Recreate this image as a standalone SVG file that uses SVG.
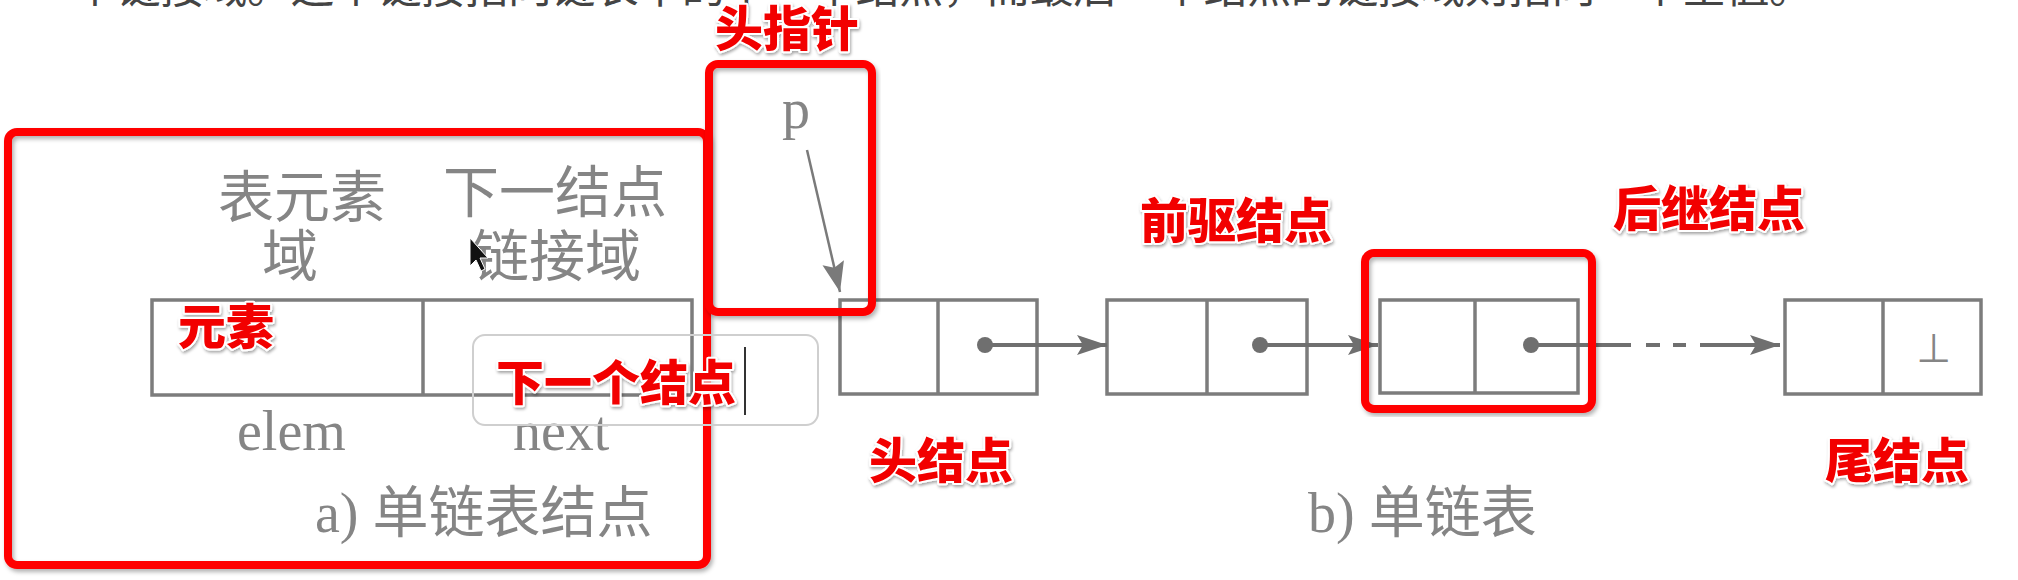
<svg xmlns="http://www.w3.org/2000/svg" width="2018" height="580" viewBox="0 0 2018 580">
  <style>
    .cell{fill:none;stroke:#7c7c7c;stroke-width:3.5}
    .gcn{font-family:"Noto Sans CJK SC","Noto Sans CJK JP",sans-serif;font-size:56px;fill:#858585}
    .gser{font-family:"Liberation Serif","Noto Sans CJK SC",serif;font-size:56px;fill:#858585}
    .red{font-family:"Noto Sans CJK SC",sans-serif;font-weight:900;font-size:48px;fill:#f20000;stroke:#ffffff;stroke-width:4;paint-order:stroke;stroke-linejoin:round;filter:url(#tsh)}
    .rbox{fill:none;stroke:#ff0000;stroke-width:8;filter:url(#bsh)}
    .conn{stroke:#6f6f6f;stroke-width:4;fill:none}
  </style>
  <defs>
    <filter id="tsh" x="-10%" y="-20%" width="120%" height="150%">
      <feDropShadow dx="1" dy="2" stdDeviation="1.5" flood-color="#000" flood-opacity="0.35"/>
    </filter>
    <filter id="bsh" x="-5%" y="-5%" width="110%" height="110%">
      <feDropShadow dx="2" dy="3" stdDeviation="2" flood-color="#000" flood-opacity="0.3"/>
    </filter>
    <marker id="ah" markerUnits="userSpaceOnUse" markerWidth="32" markerHeight="24" refX="30" refY="12" orient="auto">
      <path d="M0,2 L30,12 L0,22 L6,12 z" fill="#6f6f6f"/>
    </marker>
    <marker id="ahp" markerUnits="userSpaceOnUse" markerWidth="32" markerHeight="26" refX="30" refY="13" orient="auto">
      <path d="M0,2 L30,13 L0,24 L5,13 z" fill="#7a7a7a"/>
    </marker>
  </defs>
  <rect width="2018" height="580" fill="#ffffff"/>

  <!-- cut-off sentence at the top -->
  <text x="73" y="3" font-family="Noto Sans CJK SC, sans-serif" font-size="44" fill="#444" textLength="1740" lengthAdjust="spacing">个链接域。这个链接指向链表中的下一个结点，而最后一个结点的链接域则指向一个空值。</text>

  <!-- a) node structure -->
  <g id="node-a">
    <rect class="cell" x="152" y="300" width="540" height="95"/>
    <line class="cell" x1="423" y1="300" x2="423" y2="395"/>
    <text class="gcn" x="302" y="217" text-anchor="middle">表元素</text>
    <text class="gcn" x="290" y="276" text-anchor="middle">域</text>
    <text class="gcn" x="555" y="212" text-anchor="middle">下一结点</text>
    <text class="gcn" x="557" y="276" text-anchor="middle">链接域</text>
    <text class="gser" x="237" y="450">elem</text>
    <text class="gser" x="513" y="450">next</text>
    <text class="gser" x="315" y="532">a) 单链表结点</text>
  </g>

  <!-- head pointer -->
  <g id="head-pointer">
    <text class="gser" x="796" y="128" text-anchor="middle" fill="#777">p</text>
  </g>

  <!-- b) list nodes -->
  <g id="node-head">
    <rect class="cell" x="840" y="300" width="197" height="94"/>
    <line class="cell" x1="938" y1="300" x2="938" y2="394"/>
    <circle cx="985" cy="345" r="8" fill="#6f6f6f"/>
  </g>
  <g id="node-2">
    <rect class="cell" x="1107" y="300" width="200" height="94"/>
    <line class="cell" x1="1207" y1="300" x2="1207" y2="394"/>
    <circle cx="1260" cy="345" r="8" fill="#6f6f6f"/>
  </g>
  <g id="node-3">
    <rect class="cell" x="1380" y="300" width="198" height="93"/>
    <line class="cell" x1="1475" y1="300" x2="1475" y2="393"/>
    <circle cx="1531" cy="345" r="8" fill="#6f6f6f"/>
  </g>
  <g id="node-tail">
    <rect class="cell" x="1785" y="300" width="196" height="94"/>
    <line class="cell" x1="1883" y1="300" x2="1883" y2="394"/>
    <text x="1934" y="362" text-anchor="middle" font-family="DejaVu Sans, sans-serif" font-size="40" fill="#858585">⊥</text>
  </g>
  <g id="caption-b">
    <text class="gser" x="1308" y="532">b) 单链表</text>
  </g>

  <!-- connectors -->
  <g id="connectors">
    <line x1="807" y1="150" x2="840" y2="292" stroke="#7a7a7a" stroke-width="2.5" marker-end="url(#ahp)"/>
    <line class="conn" x1="985" y1="345" x2="1107" y2="345" marker-end="url(#ah)"/>
    <line class="conn" x1="1260" y1="345" x2="1378" y2="345" marker-end="url(#ah)"/>
    <line class="conn" x1="1531" y1="345" x2="1631" y2="345"/>
    <line class="conn" x1="1646" y1="345" x2="1660" y2="345"/>
    <line class="conn" x1="1673" y1="345" x2="1686" y2="345"/>
    <line class="conn" x1="1700" y1="345" x2="1780" y2="345" marker-end="url(#ah)"/>
  </g>

  <!-- red annotation boxes -->
  <g id="annot-boxes">
    <rect class="rbox" x="8" y="132" width="699" height="433" rx="9"/>
    <rect class="rbox" x="709" y="64" width="163" height="248" rx="9"/>
    <rect class="rbox" x="1365" y="253" width="227" height="156" rx="9"/>
  </g>

  <!-- text-input box with cursor -->
  <g id="input-box">
    <rect x="473" y="335" width="345" height="90" rx="12" fill="none" stroke="#cfcfcf" stroke-width="2"/>
    <line x1="745" y1="347" x2="745" y2="415" stroke="#333" stroke-width="2"/>
  </g>

  <!-- mouse pointer -->
  <g id="mouse-pointer">
    <path d="M470,238 L470,266 L476,260 L481,271 L485,269 L480,258 L488,258 z" fill="#111" stroke="#fff" stroke-width="1"/>
  </g>

  <!-- red annotation labels -->
  <g id="annot-labels">
    <text class="red" x="787" y="46" text-anchor="middle">头指针</text>
    <text class="red" x="178" y="344">元素</text>
    <text class="red" x="496" y="400">下一个结点</text>
    <text class="red" x="869" y="478">头结点</text>
    <text class="red" x="1236" y="238" text-anchor="middle">前驱结点</text>
    <text class="red" x="1709" y="226" text-anchor="middle">后继结点</text>
    <text class="red" x="1825" y="478">尾结点</text>
  </g>
</svg>
